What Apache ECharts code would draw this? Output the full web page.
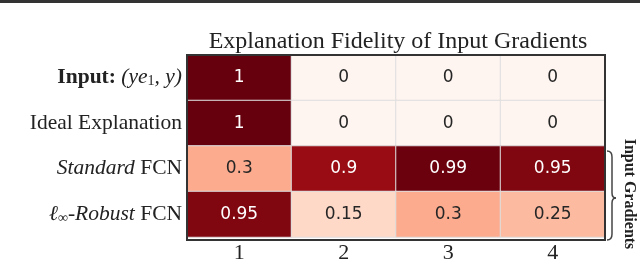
<!DOCTYPE html>
<html><head><meta charset="utf-8">
<script src="https://cdn.jsdelivr.net/npm/echarts@6/dist/echarts.min.js"></script>
<style>html,body{margin:0;padding:0;background:#fff}#c{width:640px;height:264px}</style>
</head><body><div id="c"></div>
<script>
const titleText = 'Explanation Fidelity of Input Gradients';
const xCategories = ['1', '2', '3', '4'];
const yCategories = ['Input: (ye1, y)', 'Ideal Explanation', 'Standard FCN', 'ℓ∞-Robust FCN'];
const rowInput = [1, 0, 0, 0];
const rowIdeal = [1, 0, 0, 0];
const rowStandard = [0.3, 0.9, 0.99, 0.95];
const rowRobust = [0.95, 0.15, 0.3, 0.25];
const bracketLabel = 'Input Gradients';
const redsScale = ['#fff5f0','#fee0d2','#fcbba1','#fc9272','#fb6a4a','#ef3b2c','#cb181d','#a50f15','#67000d'];

const rows = [rowInput, rowIdeal, rowStandard, rowRobust];
const data = [];
rows.forEach((r, yi) => r.forEach((v, xi) => {
  data.push({ value: [xi, yi, v], label: { color: v > 0.5 ? '#ffffff' : '#262626' } });
}));

const yRich = {
  '0': '{b|Input:} {i|(ye}{s|1}{i|, y)}',
  '1': 'Ideal Explanation',
  '2': '{i|Standard} FCN',
  '3': '{i|ℓ}{s|∞}{i|-Robust} FCN'
};

const serif = 'Liberation Serif';
const fs = 21.5;
const chart = echarts.init(document.getElementById('c'), null, { renderer: 'canvas' });
const G = { left: 187, top: 55, width: 418, height: 185 };
const braceStyle = { fill: 'none', stroke: '#444', lineWidth: 1.5 };
chart.setOption({
  animation: false,
  title: {
    text: titleText, left: 393, top: 25, textAlign: 'center',
    textStyle: { fontFamily: serif, fontWeight: 'normal', fontSize: 24, color: '#222' }
  },
  grid: { left: G.left, top: G.top, width: G.width, height: G.height },
  xAxis: {
    type: 'category', data: xCategories,
    axisLine: { show: false }, axisTick: { show: false }, splitLine: { show: false },
    axisLabel: { fontFamily: serif, fontSize: 22, color: '#222', margin: 5 }
  },
  yAxis: {
    type: 'category', data: yCategories, inverse: true,
    axisLine: { show: false }, axisTick: { show: false }, splitLine: { show: false },
    axisLabel: {
      margin: 5, fontFamily: serif, fontSize: fs, color: '#222',
      formatter: (val, idx) => yRich[String(idx)],
      rich: {
        b: { fontFamily: serif, fontWeight: 'bold', fontSize: fs, color: '#222' },
        i: { fontFamily: serif, fontStyle: 'italic', fontSize: fs, color: '#222' },
        s: { fontFamily: serif, fontSize: 14, color: '#222', padding: [8, 0, 0, 0] }
      }
    }
  },
  visualMap: { show: false, min: 0, max: 1, inRange: { color: redsScale } },
  series: [{
    type: 'heatmap', data: data,
    itemStyle: { borderColor: '#dedede', borderWidth: 1 },
    label: { show: true, fontFamily: 'DejaVu Sans', fontSize: 17, formatter: p => String(p.value[2]) }
  }],
  graphic: [
    { type: 'rect', shape: { x: 0, y: 0, width: 640, height: 3 }, style: { fill: '#333' }, z: 100 },
    { type: 'rect', shape: { x: G.left, y: G.top, width: G.width, height: G.height }, style: { fill: 'none', stroke: '#333', lineWidth: 2 }, z: 100 },
    { type: 'bezierCurve', shape: { x1: 607, y1: 151, x2: 612, y2: 157, cpx1: 612, cpy1: 151 }, style: braceStyle, z: 100 },
    { type: 'line', shape: { x1: 612, y1: 157, x2: 612, y2: 193 }, style: braceStyle, z: 100 },
    { type: 'bezierCurve', shape: { x1: 612, y1: 193, x2: 616, y2: 198, cpx1: 612, cpy1: 198 }, style: braceStyle, z: 100 },
    { type: 'bezierCurve', shape: { x1: 616, y1: 198, x2: 612, y2: 203, cpx1: 612, cpy1: 198 }, style: braceStyle, z: 100 },
    { type: 'line', shape: { x1: 612, y1: 203, x2: 612, y2: 234 }, style: braceStyle, z: 100 },
    { type: 'bezierCurve', shape: { x1: 612, y1: 234, x2: 607, y2: 240, cpx1: 612, cpy1: 240 }, style: braceStyle, z: 100 },
    { type: 'text', x: 629, y: 194, rotation: -Math.PI / 2, style: { text: bracketLabel, font: 'bold 16px "Liberation Serif"', fill: '#222', textAlign: 'center', textVerticalAlign: 'middle' }, z: 100 }
  ]
});
</script></body></html>
